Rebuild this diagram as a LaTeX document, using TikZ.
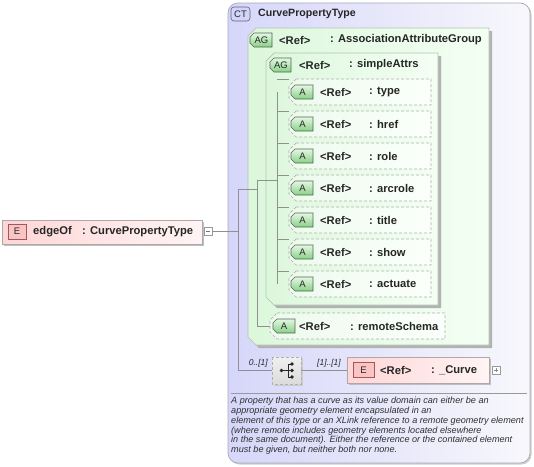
\documentclass[tikz,border=0pt]{standalone}
\usepackage{fontspec}
\setmainfont{Liberation Sans}
\usetikzlibrary{shadows}
\definecolor{ctL}{HTML}{D6D6FA}
\definecolor{ctR}{HTML}{F8F8FC}
\definecolor{ctline}{HTML}{A8A8B8}
\definecolor{agL}{HTML}{DCF7DC}
\definecolor{agR}{HTML}{F4FFF4}
\definecolor{agline}{HTML}{B4C4B4}
\definecolor{aL}{HTML}{EEFAEE}
\definecolor{aR}{HTML}{FBFFFB}
\definecolor{aline}{HTML}{B0B0B0}
\definecolor{eL}{HTML}{FFD6D6}
\definecolor{eR}{HTML}{FFF4F4}
\definecolor{eline}{HTML}{B0A8A8}
\definecolor{gbT}{HTML}{E4F8E4}
\definecolor{gbB}{HTML}{88D088}
\definecolor{gbline}{HTML}{506850}
\definecolor{ebF}{HTML}{FAC4C4}
\definecolor{ebline}{HTML}{A05858}
\definecolor{ctbF}{HTML}{D4D4F8}
\definecolor{ctbline}{HTML}{606088}
\definecolor{connc}{HTML}{909090}
\definecolor{txt}{HTML}{262626}
\definecolor{doctxt}{HTML}{303030}
\tikzset{
 ctbox/.style={draw=ctline, line width=0.7pt, rounded corners=10pt, left color=ctL, right color=ctR,
   general shadow={fill=black!20, shadow xshift=1.5pt, shadow yshift=-1.5pt, rounded corners=10pt}},
 agbox/.style={draw=agline, line width=0.7pt, left color=agL, right color=agR,
   general shadow={fill=black!30, shadow xshift=3pt, shadow yshift=-3pt}},
 abox/.style={draw=aline, line width=0.7pt, dash pattern=on 3pt off 2pt, left color=aL, right color=aR},
 ebox/.style={draw=eline, line width=0.7pt, left color=eL, right color=eR,
   general shadow={fill=black!25, shadow xshift=2pt, shadow yshift=-2pt}},
 seqbox/.style={draw=aline, line width=0.7pt, dash pattern=on 3pt off 2pt, top color=black!6, bottom color=black!14,
   general shadow={fill=black!20, shadow xshift=2pt, shadow yshift=-2pt}},
 gbadge/.style={draw=gbline, line width=0.6pt, top color=gbT, bottom color=gbB},
 ebadge/.style={draw=ebline, line width=0.6pt, fill=ebF},
 ctbadge/.style={draw=ctbline, line width=0.6pt, rounded corners=3pt, fill=ctbF},
 conn/.style={draw=connc, line width=0.6pt},
 pmbox/.style={draw=black!40, fill=white, line width=0.5pt, minimum size=8pt, inner sep=0pt, outer sep=0pt, anchor=north west},
 lbl/.style={anchor=west, inner sep=0pt, font=\fontsize{11.2}{13}\bfseries, text=txt},
 hdr/.style={anchor=west, inner sep=0pt, font=\fontsize{10.6}{13}\bfseries, text=txt},
 btxt/.style={inner sep=0pt, font=\fontsize{9.5}{11}\selectfont, text=txt},
 mult/.style={inner sep=0pt, font=\fontsize{8.5}{10}\itshape, text=txt},
 hole/.style={inner sep=0pt, outer sep=0pt, anchor=north west},
}
% chamfered box: name, x1, y1, x2, y2, chamfer, style
\newcommand{\ChBox}[7]{%
  \path[#7] (#2+#6,#3) -- (#4,#3) -- (#4,#5) -- (#2+#6,#5) -- (#2,#5-#6) -- (#2,#3+#6) -- cycle;
  \node[hole, minimum width=#4-#2, minimum height=#5-#3] (#1) at (#2,#3) {};}
% attribute row: name, centre y, label
\newcommand{\ARow}[3]{%
  \ChBox{#1}{289}{#2-13}{431}{#2+13}{7}{abox}
  \ChBox{#1b}{291}{#2-7}{313}{#2+7}{4}{gbadge}
  \node[btxt] at (302.5,#2) {A};
  \node[lbl] at (320,#2) {<Ref>};
  \node[lbl] at (369,#2) {: #3};}
\begin{document}
\begin{tikzpicture}[x=1pt,y=-1pt]
\useasboundingbox (0,0) rectangle (534,466);

% ---- edgeOf element
\path[ebox] (2,220) rectangle (202,244);
\node[hole, minimum width=200, minimum height=24] (edge) at (2,220) {};
\path[ebadge] (8,224) rectangle (26,239);
\node[btxt] (edgeE) at (17,231.5) {E};
\node[lbl] (edgeN) at (33,231.5) {edgeOf};
\node[lbl] (edgeT) at (82,231.5) {: CurvePropertyType};
\node[pmbox] (edgem) at (204,227.5) {};
\draw[black!55, line width=0.6pt] ([xshift=2pt]edgem.west) -- ([xshift=-2pt]edgem.east);

% ---- complex type
\path[ctbox] (228,3) rectangle (530,463);
\node[hole, minimum width=302, minimum height=460] (ct) at (228,3) {};
\path[ctbadge] (231,7) rectangle (250,21);
\node[btxt] (ctb) at (240.5,14) {CT};
\node[hdr] (ctn) at (258,14) {CurvePropertyType};

% ---- outer attribute group
\ChBox{agout}{248}{28}{489}{345}{8}{agbox}
\ChBox{agoutb}{250}{33}{272}{47}{4}{gbadge}
\node[btxt] at (261.5,40) {AG};
\node[lbl] at (279,40) {<Ref>};
\node[lbl] at (330,40) {: AssociationAttributeGroup};

% ---- inner attribute group
\ChBox{agin}{266}{53}{438}{305}{8}{agbox}
\ChBox{aginb}{270}{58}{291}{72}{4}{gbadge}
\node[btxt] at (281,65) {AG};
\node[lbl] at (299,65) {<Ref>};
\node[lbl] at (349,65) {: simpleAttrs};

% ---- attributes
\ARow{aType}{92}{type}
\ARow{aHref}{124}{href}
\ARow{aRole}{156}{role}
\ARow{aArc}{188}{arcrole}
\ARow{aTitle}{220}{title}
\ARow{aShow}{252}{show}
\ARow{aAct}{284}{actuate}

\ChBox{aRem}{270}{313}{445}{339}{7}{abox}
\ChBox{aRemb}{273}{319}{295}{333}{4}{gbadge}
\node[btxt] at (284,326) {A};
\node[lbl] at (299,326) {<Ref>};
\node[lbl] at (350,326) {: remoteSchema};

% ---- sequence compositor
\path[seqbox] (272,357) rectangle (301,384);
\node[hole, minimum width=29, minimum height=27] (seq) at (272,357) {};
\begin{scope}[black!85, line width=0.6pt]
\fill (281.5,370.5) circle (1.8);
\draw (281.5,370.5) -- (288,370.5);
\draw (288,364) -- (288,377);
\draw (288,364) -- (292,364) (288,370.5) -- (292,370.5) (288,377) -- (292,377);
\fill (292,364) circle (1.8) (292,370.5) circle (1.8) (292,377) circle (1.8);
\end{scope}

% ---- _Curve element
\path[ebox] (347,357) rectangle (489,383);
\node[hole, minimum width=142, minimum height=26] (curve) at (347,357) {};
\path[ebadge] (353,362.5) rectangle (374,377.5);
\node[btxt] at (363.5,370) {E};
\node[lbl] at (380,370) {<Ref>};
\node[lbl] at (431,370) {: \_Curve};
\node[pmbox] (curvep) at (492,366) {};
\draw[black!45, line width=0.5pt] ([xshift=1.8pt]curvep.west) -- ([xshift=-1.8pt]curvep.east)
  ([yshift=1.8pt]curvep.south) -- ([yshift=-1.8pt]curvep.north);

\node[mult, anchor=east] at (268,363) {0..[1]};
\node[mult, anchor=west] at (317,363) {[1]..[1]};

% ---- connectors
\coordinate (s1a) at (238,189);
\coordinate (s1b) at (238,370.5);
\coordinate (s2a) at (257,180);
\coordinate (s2b) at (257,326);
\coordinate (s3a) at (277,92);
\coordinate (s3b) at (277,284);
\draw[conn] (edgem.east) -- (edgem.east -| s1a);
\draw[conn] (s1a) -- (s1b);
\draw[conn] (s1a) -- (s1a -| s2a);
\draw[conn] (s2a) -- (s2b);
\draw[conn] (s2a) -- (s2a -| s3a);
\draw[conn] (s3a) -- (s3b);
\foreach \n in {aType,aHref,aRole,aArc,aTitle,aShow,aAct}
  \draw[conn] (\n.west -| s3a) -- (\n.west);
\draw[conn] (s2b) -- (aRem.west);
\draw[conn] (s1b) -- (seq.west |- s1b);
\draw[conn] (seq.east |- s1b) -- (curve.west |- s1b);

% ---- documentation
\draw[black!40, line width=0.6pt] (231,393) -- (527,393);
\node[anchor=north west, inner sep=0pt, text=doctxt, font=\fontsize{9.1}{9.9}\itshape, align=left] (doc) at (231,396.5)
{A property that has a curve as its value domain can either be an\\
appropriate geometry element encapsulated in an\\
element of this type or an XLink reference to a remote geometry element\\
(where remote includes geometry elements located elsewhere\\
in the same document). Either the reference or the contained element\\
must be given, but neither both nor none.};
\end{tikzpicture}
\end{document}
